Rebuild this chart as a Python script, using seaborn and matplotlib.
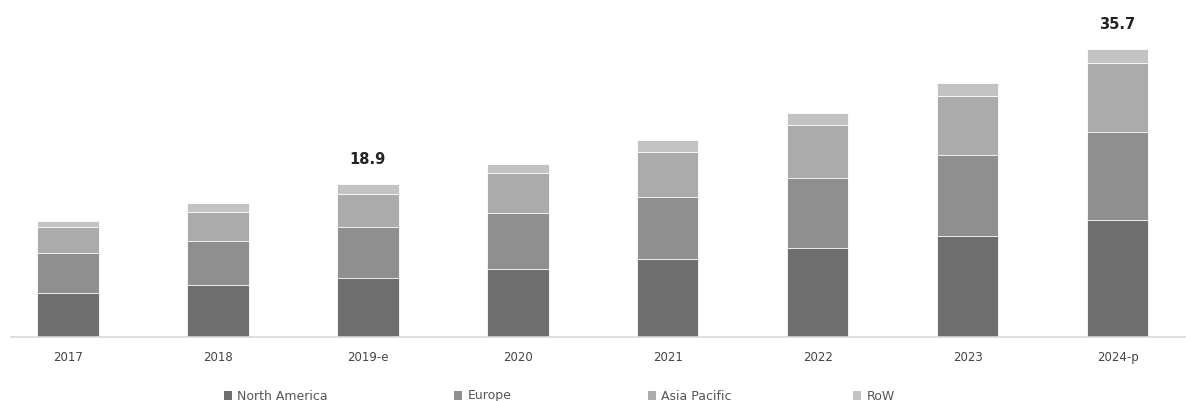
import numpy as np
import pandas as pd
import matplotlib
matplotlib.use("Agg")
import matplotlib.pyplot as plt
import seaborn as sns
from matplotlib.patches import Patch

years = ["2017", "2018", "2019-e", "2020", "2021", "2022", "2023", "2024-p"]
north_america = [5.45, 6.44, 7.33, 8.43, 9.67, 11.03, 12.52, 14.45]
europe = [4.96, 5.45, 6.33, 6.94, 7.68, 8.67, 10.04, 11.00]
asia_pacific = [3.22, 3.59, 4.10, 4.96, 5.58, 6.57, 7.31, 8.50]
row = [0.74, 1.12, 1.14, 1.12, 1.49, 1.49, 1.61, 1.75]
series_names = ["North America", "Europe", "Asia Pacific", "RoW"]
annotated = {"2019-e": "18.9", "2024-p": "35.7"}

colors = ["#6e6e6e", "#8f8f8f", "#ababab", "#c3c3c3"]

sns.set_theme(style="white")
plt.rcParams["font.family"] = ["DejaVu Sans"]

fig = plt.figure(figsize=(11.94, 4.01), dpi=100)
ax = fig.add_axes([11 / 1194, 64 / 401, 1174 / 1194, 40 * 8.07 / 401])

series = [north_america, europe, asia_pacific, row]
cum = np.cumsum(np.array(series), axis=0)
df = pd.DataFrame({"year": years})
# draw from tallest cumulative to shortest so lower segments overlay
for i in range(len(series) - 1, -1, -1):
    df["v"] = cum[i]
    sns.barplot(data=df, x="year", y="v", color=colors[i], width=0.41,
                edgecolor="white", linewidth=0.6, saturation=1, ax=ax)

totals = cum[-1]
for j, y in enumerate(years):
    if y in annotated:
        ax.annotate(annotated[y], xy=(j, totals[j]), xytext=(0, 17),
                    textcoords="offset pixels",
                    ha="center", va="bottom", fontsize=10.5, fontweight="bold",
                    color="#222222")

ax.set_xlim(-0.38, 7.45)
ax.set_ylim(0, 40)
ax.set_xlabel("")
ax.set_ylabel("")
ax.set_yticks([])
for s in ["top", "left", "right"]:
    ax.spines[s].set_visible(False)
ax.spines["bottom"].set_color("#d9d9d9")
ax.spines["bottom"].set_linewidth(1.2)
ax.tick_params(axis="x", length=0, pad=10, labelsize=8.5, labelcolor="#444444")

legend_x = [222, 452, 646, 851]
for name, c, lx in zip(series_names, colors, legend_x):
    fig.legend(handles=[Patch(facecolor=c, edgecolor="none")], labels=[name],
               loc="center left", bbox_to_anchor=(lx / 1194 - 0.008, 1 - 396 / 401),
               frameon=False, fontsize=9, handlelength=0.7, handleheight=0.7,
               handletextpad=0.4, labelcolor="#555555")

fig.savefig("out.png", dpi=100)
